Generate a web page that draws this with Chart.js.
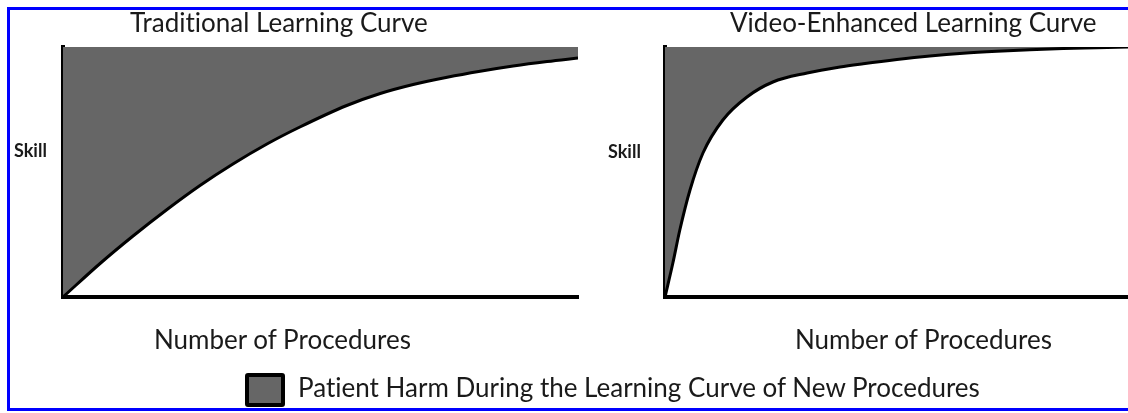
<!DOCTYPE html>
<html>
<head>
<meta charset="utf-8">
<title>Learning Curves</title>
<script src="https://cdn.jsdelivr.net/npm/chart.js"></script>
<style>
  body { margin: 0; background: #fff; font-family: Lato, "Open Sans", sans-serif; color: #1a1a1a; }
  #page { position: relative; width: 1128px; height: 413px; overflow: hidden; background: #fff; }
  #frame { position: absolute; left: 7px; top: 7px; width: 1140px; height: 404px; border: 3px solid #0000ff; border-right: none; box-sizing: border-box; }
  .txt { position: absolute; white-space: nowrap; line-height: 1; font-variant-ligatures: none; }
  .big { font-size: 26px; }
  .skill { font-size: 18px; font-weight: bold; }
  canvas { position: absolute; top: 0; }
  #swatch { position: absolute; left: 245px; top: 373px; width: 40px; height: 34px; box-sizing: border-box; background: #666; border: 4px solid #000; border-radius: 3px; }
</style>
</head>
<body>
<div id="page">
  <div id="frame"></div>
  <canvas id="chartTrad" width="600" height="413" style="left:0"></canvas>
  <canvas id="chartVideo" width="528" height="413" style="left:600px"></canvas>

  <div class="txt big" style="left:130px; top:9px">Traditional Learning Curve</div>
  <div class="txt big" style="left:730px; top:9px">Video-Enhanced Learning Curve</div>
  <div class="txt skill" style="left:14px; top:141px">Skill</div>
  <div class="txt skill" style="left:608px; top:142px">Skill</div>
  <div class="txt big" style="left:154px; top:326px">Number of Procedures</div>
  <div class="txt big" style="left:795px; top:326px">Number of Procedures</div>
  <div id="swatch"></div>
  <div class="txt big" style="left:298px; top:374px">Patient Harm During the Learning Curve of New Procedures</div>
</div>
<script>
  // traditional curve: number of procedures (0-100) vs skill (0-100)
  const tradX = [0, 7.2, 13.6, 20.2, 26.6, 33.0, 39.6, 46.0, 55.1, 61.6, 68.0, 74.6, 81.0, 87.4, 94.0, 100];
  const tradY = [0, 13.4, 24.4, 35.0, 44.6, 53.2, 61.2, 68.0, 76.6, 81.4, 85.0, 87.9, 90.3, 92.4, 94.2, 95.6];

  // video-enhanced curve
  const videoX = [0, 1.7, 3.2, 5.4, 8.2, 12.5, 17.7, 23.3, 30.7, 37.8, 42.8, 50.1, 57.2, 64.4, 71.7, 78.8, 86.0, 93.3, 100];
  const videoY = [0, 13.6, 26.8, 42.8, 57.6, 70.8, 80.0, 86.0, 89.6, 92.0, 93.3, 95.0, 96.4, 97.5, 98.3, 98.9, 99.4, 99.7, 100];

  const harmColor = '#666666';

  function toPoints(xs, ys) {
    return xs.map((x, i) => ({ x: x, y: ys[i] }));
  }

  function axis() {
    return {
      type: 'linear',
      min: 0,
      max: 100,
      z: 1,
      grid: { display: false, drawTicks: false, tickLength: 0 },
      ticks: { display: false },
      border: { display: true, color: '#000', width: 4 }
    };
  }

  function makeChart(id, xs, ys, padding) {
    const ctx = document.getElementById(id).getContext('2d');
    return new Chart(ctx, {
      type: 'line',
      data: {
        datasets: [{
          label: 'Patient Harm During the Learning Curve of New Procedures',
          data: toPoints(xs, ys),
          borderColor: '#000',
          borderWidth: 3,
          backgroundColor: harmColor,
          fill: 'end',
          pointRadius: 0,
          cubicInterpolationMode: 'monotone'
        }]
      },
      options: {
        responsive: false,
        animation: false,
        devicePixelRatio: 1,
        layout: { padding: padding },
        plugins: {
          legend: { display: false },
          tooltip: { enabled: false },
          title: { display: false }
        },
        scales: { x: axis(), y: axis() }
      }
    });
  }

  makeChart('chartTrad', tradX, tradY, { left: 63, top: 47, right: 22, bottom: 116 });
  makeChart('chartVideo', videoX, videoY, { left: 65, top: 47, right: 0, bottom: 116 });
</script>
</body>
</html>
